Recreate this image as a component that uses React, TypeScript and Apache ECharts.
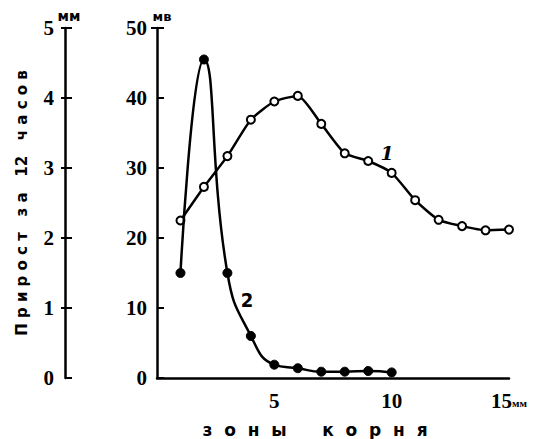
import React, { useEffect, useRef } from "react";
import * as echarts from "echarts";

// Root zones along the x axis (mm from the tip)
const zonesCurve1 = [1, 2, 3, 4, 5, 6, 7, 8, 9, 10, 11, 12, 13, 14, 15];
// Curve 1: potential, mV
const curve1Mv = [22.5, 27.3, 31.7, 36.9, 39.5, 40.3, 36.3, 32.1, 31.0, 29.3, 25.4, 22.6, 21.7, 21.1, 21.2];
const zonesCurve2 = [1, 2, 3, 4, 5, 6, 7, 8, 9, 10];
// Curve 2: growth over 12 hours, mm
const curve2Mm = [1.5, 4.55, 1.5, 0.6, 0.19, 0.14, 0.09, 0.09, 0.1, 0.08];

const xTickLabels: Record<number, string> = { 5: "5", 10: "10", 15: "{n|15}{u|мм}" };

const INK = "#000";
const NUM_FONT = "Liberation Sans Narrow";

export default function App() {
  const ref = useRef<HTMLDivElement>(null);

  useEffect(() => {
    document.body.style.margin = "0";
    if (!ref.current) return;
    const chart = echarts.init(ref.current, null, { renderer: "svg" });

    const numLabel = {
      color: INK,
      fontFamily: NUM_FONT,
      fontWeight: "bold" as const,
      fontSize: 21,
    };

    chart.setOption({
      animation: false,
      backgroundColor: "#fff",
      grid: { left: 157, top: 28, right: 34, bottom: 61 },
      xAxis: {
        type: "value",
        min: 0,
        max: 15,
        interval: 5,
        axisLine: { onZero: false, lineStyle: { color: INK, width: 2.5 } },
        axisTick: { show: false },
        splitLine: { show: false },
        axisLabel: {
          ...numLabel,
          margin: 12,
          showMinLabel: true,
          showMaxLabel: true,
          formatter: (v: number) => xTickLabels[v] ?? "",
          rich: {
            n: { ...numLabel },
            u: { color: INK, fontFamily: NUM_FONT, fontWeight: "bold", fontSize: 11, padding: [5, 0, 0, 0] },
          },
        },
      },
      yAxis: [
        {
          // mV scale, ticks pointing into the plot
          type: "value",
          min: 0,
          max: 50,
          interval: 10,
          position: "left",
          axisLine: { show: true, onZero: false, lineStyle: { color: INK, width: 2.5 } },
          axisTick: { show: true, inside: true, length: 7, lineStyle: { color: INK, width: 2 } },
          splitLine: { show: false },
          axisLabel: { ...numLabel, margin: 10 },
        },
        {
          // cap at the top of the mV scale
          type: "value",
          min: 0,
          max: 50,
          interval: 10,
          position: "left",
          axisLine: { show: false, onZero: false },
          axisTick: { show: true, inside: false, length: 6, customValues: [50], lineStyle: { color: INK, width: 2 } },
          splitLine: { show: false },
          axisLabel: { show: false },
        },
        {
          // mm scale
          type: "value",
          min: 0,
          max: 5,
          interval: 1,
          position: "left",
          offset: 92,
          axisLine: { show: true, onZero: false, lineStyle: { color: INK, width: 2.5 } },
          axisTick: { show: true, inside: true, length: 7, lineStyle: { color: INK, width: 2 } },
          splitLine: { show: false },
          axisLabel: { ...numLabel, margin: 11 },
        },
        {
          type: "value",
          min: 0,
          max: 5,
          interval: 1,
          position: "left",
          offset: 92,
          axisLine: { show: false, onZero: false },
          axisTick: { show: true, inside: false, length: 4, customValues: [1, 2, 3, 4, 5], lineStyle: { color: INK, width: 2 } },
          splitLine: { show: false },
          axisLabel: { show: false },
        },
      ],
      series: [
        {
          name: "1",
          type: "line",
          yAxisIndex: 0,
          data: zonesCurve1.map((x, i) => [x, curve1Mv[i]]),
          smooth: 0.2,
          symbol: "circle",
          symbolSize: 8,
          lineStyle: { color: INK, width: 2.5 },
          itemStyle: { color: "#fff", borderColor: INK, borderWidth: 2 },
          z: 3,
        },
        {
          name: "2",
          type: "line",
          yAxisIndex: 2,
          data: zonesCurve2.map((x, i) => [x, curve2Mm[i]]),
          smooth: 0.5,
          symbol: "circle",
          symbolSize: 9,
          lineStyle: { color: INK, width: 2.5 },
          itemStyle: { color: INK, borderColor: INK, borderWidth: 1 },
          z: 4,
        },
      ],
      graphic: [
        {
          type: "text",
          x: 22,
          y: 203,
          rotation: Math.PI / 2,
          style: {
            text: "П р и р о с т   з а   12   ч а с о в",
            align: "center",
            verticalAlign: "middle",
            fill: INK,
            font: "bold 15px 'DejaVu Sans'",
          },
        },
        {
          type: "text",
          x: 69,
          y: 16,
          style: { text: "мм", align: "center", verticalAlign: "middle", fill: INK, font: "bold 14px 'DejaVu Sans'" },
        },
        {
          type: "text",
          x: 162,
          y: 16,
          style: { text: "мв", align: "center", verticalAlign: "middle", fill: INK, font: "bold 13px 'DejaVu Sans'" },
        },
        {
          type: "text",
          x: 387,
          y: 153,
          style: { text: "1", align: "center", verticalAlign: "middle", fill: INK, font: "italic bold 19px 'DejaVu Serif'" },
        },
        {
          type: "text",
          x: 247,
          y: 300,
          style: { text: "2", align: "center", verticalAlign: "middle", fill: INK, font: "bold 20px 'DejaVu Sans Condensed'" },
        },
        {
          type: "text",
          x: 315,
          y: 430,
          style: {
            text: "з  о  н  ы      к  о  р  н  я",
            align: "center",
            verticalAlign: "middle",
            fill: INK,
            font: "bold 17px 'DejaVu Sans'",
          },
        },
      ],
    });

    return () => chart.dispose();
  }, []);

  return <div ref={ref} style={{ width: 543, height: 439 }} />;
}
